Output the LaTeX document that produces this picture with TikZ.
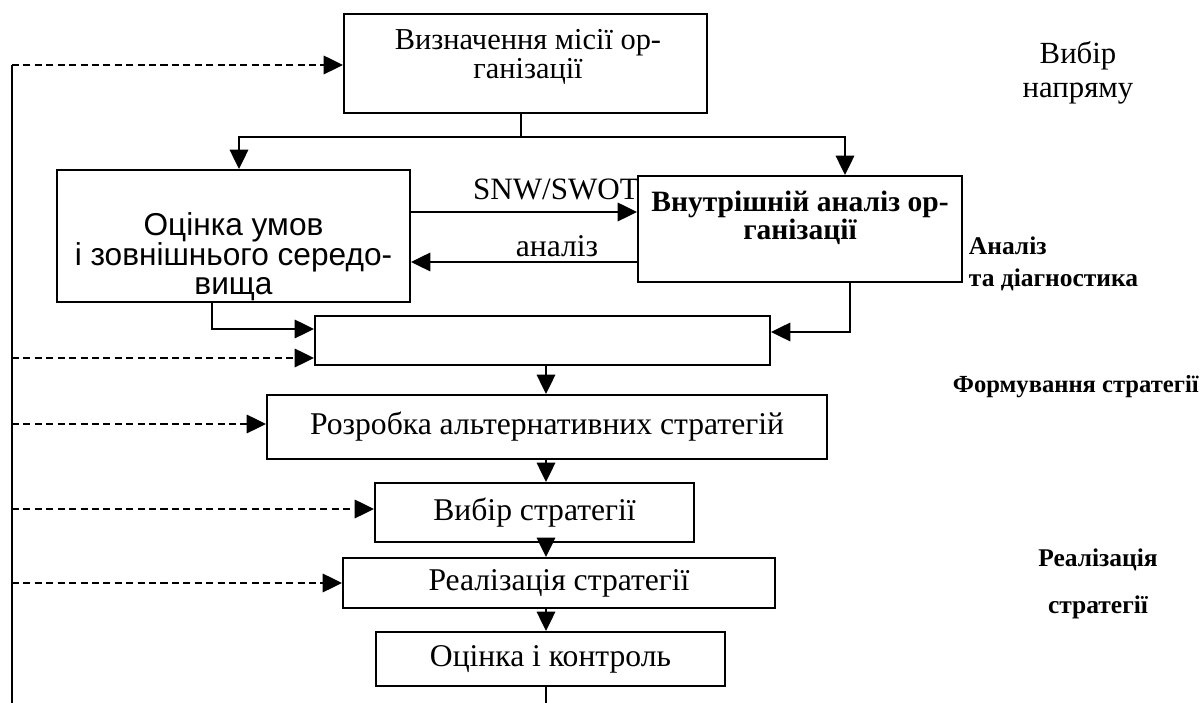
\documentclass[tikz,border=0pt]{standalone}
\usepackage{fontspec}
\setmainfont{Liberation Serif}
\setsansfont{Liberation Sans}
\usetikzlibrary{arrows.meta}
\tikzset{
    blok/.style={draw, line width=1.1pt, inner sep=0pt},
    txt/.style={font=\fontsize{18}{16.8}\selectfont, align=center, inner sep=0pt},
    side/.style={font=\bfseries\fontsize{14.5}{18.1}\selectfont, inner sep=0pt},
    arr/.style={line width=1.1pt, -{Triangle[length=11pt,width=10.5pt]}},
    dasharr/.style={arr, dash pattern=on 4pt off 2.5pt},
}

\begin{document}
\begin{tikzpicture}[x=0.2mm, y=-0.2mm, line width=1.1pt]
    \useasboundingbox (0,0) rectangle (1202,703);
    \node[blok, minimum width=72.6mm, minimum height=19.8mm] (mission) at (525.5,63.5) {};
    \node[txt, font=\fontsize{17.3}{16.6}\selectfont] (missiontxt) at (528,57) {Визначення місії ор-\\ганізації};
    \node[blok, minimum width=70.6mm, minimum height=26.4mm] (env) at (233.5,236) {};
    \node[txt, font=\sffamily\fontsize{18}{16.8}\selectfont] (envtxt) at (233.5,257) {Оцінка умов\\і зовнішнього середо-\\вища};
    \node[blok, minimum width=64.8mm, minimum height=21.2mm] (internal) at (800,229) {};
    \node[txt, font=\bfseries\fontsize{16.8}{16}\selectfont] (internaltxt) at (800,218) {Внутрішній аналіз ор-\\ганізації};
    \node[blok, minimum width=91mm, minimum height=9.8mm] (blank) at (542.5,340.5) {};
    \node[blok, txt, minimum width=112mm, minimum height=12.8mm] (razrobka) at (547,427) {Розробка альтернативних стратегій};
    \node[blok, txt, minimum width=63.8mm, minimum height=11.8mm] (vybir) at (534.5,512.5) {Вибір стратегії};
    \node[blok, txt, minimum width=86.4mm, minimum height=10mm] (realiz) at (559,583) {Реалізація стратегії};
    \node[blok, txt, minimum width=69.8mm, minimum height=10.8mm] (ocinka) at (550.5,659) {Оцінка і контроль};

    \node[txt, font=\fontsize{17.5}{19.3}\selectfont] (naprjam) at (1078,73) {Вибір\\напряму};
    \node[side, align=left, anchor=west] (analiz) at (968,264) {Аналіз\\та діагностика};
    \node[side, font=\bfseries\fontsize{14}{18}\selectfont, anchor=base west] (formuv) at (952,393) {Формування стратегії};
    \node[side, align=center, font=\bfseries\fontsize{14.5}{27}\selectfont] (realizlbl) at (1098,584) {Реалізація\\стратегії};
    \node[txt, font=\fontsize{17.7}{17}\selectfont, anchor=base] (snwlbl) at (556,200) {SNW/SWOT};
    \node[txt, anchor=base] (anlbl) at (557,257) {аналіз};

    \coordinate (split) at (521,137);
    \coordinate (jl) at (239,137);
    \coordinate (jr) at (845,137);
    \draw (mission.south -| split) -- (split);
    \draw[arr] (split) -- (jl) -- (jl |- env.north);
    \draw[arr] (split) -- (jr) -- (jr |- internal.north);

    \coordinate (snw) at (410,212);
    \coordinate (an) at (410,262);
    \draw[arr] (snw -| env.east) -- (snw -| internal.west);
    \draw[arr] (an -| internal.west) -- (an -| env.east);
    \coordinate (ed) at (212,329);
    \coordinate (id) at (850,332);
    \draw[arr] (ed |- env.south) -- (ed) -- (ed -| blank.west);
    \draw[arr] (id |- internal.south) -- (id) -- (id -| blank.east);

    \coordinate (spine) at (546,703);
    \foreach \a/\b in {blank/razrobka, razrobka/vybir, vybir/realiz, realiz/ocinka}
        \draw[arr] (\a.south -| spine) -- (\b.north -| spine);
    \draw (ocinka.south -| spine) -- (spine);

    \coordinate (fbtop) at (12,65);
    \coordinate (fbbot) at (12,703);
    \draw (fbbot) -- (fbtop);
    \foreach \n/\yy in {mission/65, blank/358, razrobka/424, vybir/509, realiz/583}{
        \coordinate (fb\n) at (12,\yy);
        \draw[dasharr] (fb\n) -- (fb\n -| \n.west);
    }
\end{tikzpicture}
\end{document}
